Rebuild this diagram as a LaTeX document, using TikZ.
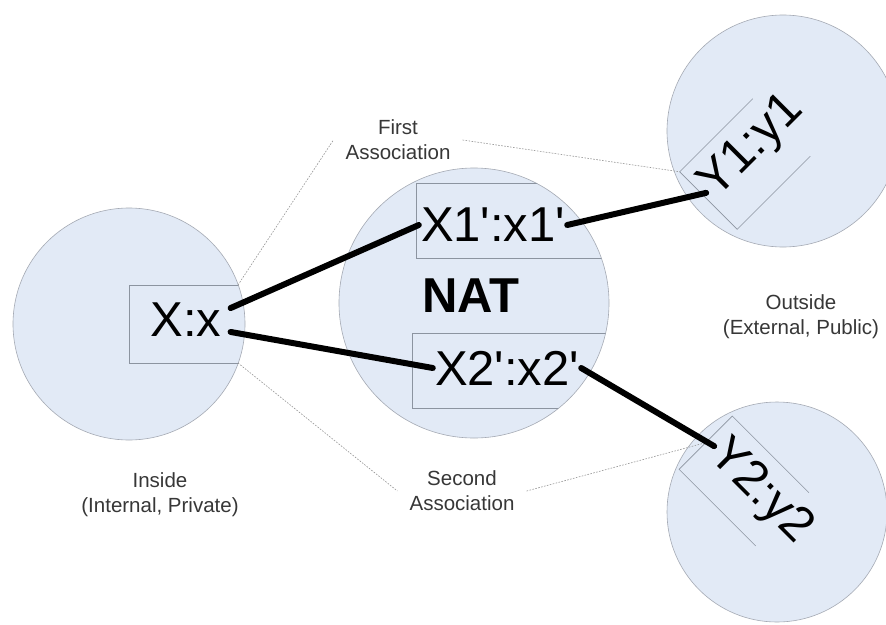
\documentclass[tikz,border=0pt]{standalone}
\usepackage{fontspec}
\setmainfont{Liberation Sans}
\usetikzlibrary{positioning}

\definecolor{zonefill}{RGB}{226,234,246}
\definecolor{zoneline}{RGB}{165,170,180}
\definecolor{boxline}{RGB}{140,148,160}
\definecolor{notetext}{RGB}{55,55,55}
\definecolor{guideline}{RGB}{150,150,150}
\newcommand{\pq}{\textquotesingle}

\begin{document}
\begin{tikzpicture}[
  x=1pt, y=-1pt,
  zone/.style={draw=zoneline, fill=zonefill, line width=0.6pt},
  addrbox/.style={draw=boxline, line width=0.6pt},
  addr/.style={inner sep=2pt, font=\fontsize{49}{50}\selectfont},
  tagbox/.style={minimum width=#1, inner sep=0pt},
  note/.style={align=center, inner xsep=12pt, inner ysep=4pt, text=notetext,
    font=\fontsize{20.5}{25}\selectfont},
  link/.style={line width=6pt, line cap=round},
  guide/.style={draw=guideline, line width=0.6pt, dash pattern=on 1.6pt off 1.4pt}
]
\clip (0,0) rectangle (886,624);
\fill[white] (0,0) rectangle (886,624);
\path[zone] (129,324) circle[radius=116];
\path[zone] (474,303) circle[radius=135];
\path[zone] (783,131) circle[radius=116];
\path[zone] (777,512) circle[radius=110];
\begin{scope}
  \clip (129,324) circle[radius=116];
  \draw[addrbox] (129,285) rectangle (260,363);
\end{scope}
\begin{scope}
  \clip (474,303) circle[radius=135];
  \draw[addrbox] (416,183) rectangle (640,258);
  \draw[addrbox] (412,333) rectangle (640,408);
\end{scope}
\node[tagbox=103, minimum height=81, rotate=45] (yonebox) at (745,164) {};
\node[tagbox=108, minimum height=75, rotate=-45] (ytwobox) at (744,481) {};
\draw[addrbox] (yonebox.north east) -- (yonebox.north west)
  -- (yonebox.south west) -- (yonebox.south east);
\draw[addrbox] (ytwobox.north east) -- (ytwobox.north west)
  -- (ytwobox.south west) -- (ytwobox.south east);
\node[addr, inner xsep=9pt] (xx) at (186,320) {X:x};
\node[addr] (xone) at (493,225) {X1\pq:x1\pq};
\node[addr] (xtwo) at (507,368) {X2\pq:x2\pq};
\node[addr, font=\fontsize{49}{50}\selectfont\bfseries] (nat) at (471,296) {NAT};
\node[addr, rotate=45] (yone) at (752,147) {Y1:y1};
\node[addr, rotate=-45] (ytwo) at (760,492) {Y2:y2};
\node[note] (first) at (398,140) {First\\Association};
\node[note] (second) at (462,491) {Second\\Association};
\node[note] (inside) at (160,495) {Inside\\(Internal, Private)};
\node[note] (outside) at (801,317) {Outside\\(External, Public)};
\coordinate (xxtop) at (238,285);
\coordinate (xxbot) at (238,363);
\draw[guide] (xxtop) -- (first.west);
\draw[guide] (first.east) -- (yonebox.north west);
\draw[guide] (xxbot) -- (second.west);
\draw[guide] (second.east) -- (ytwobox.west);
\draw[link] (xx.15) -- (xone.west);
\draw[link] (xx.-15) -- (xtwo.west);
\draw[link] (xone.east) -- (yone.west);
\draw[link] (xtwo.east) -- (ytwo.west);
\end{tikzpicture}
\end{document}
